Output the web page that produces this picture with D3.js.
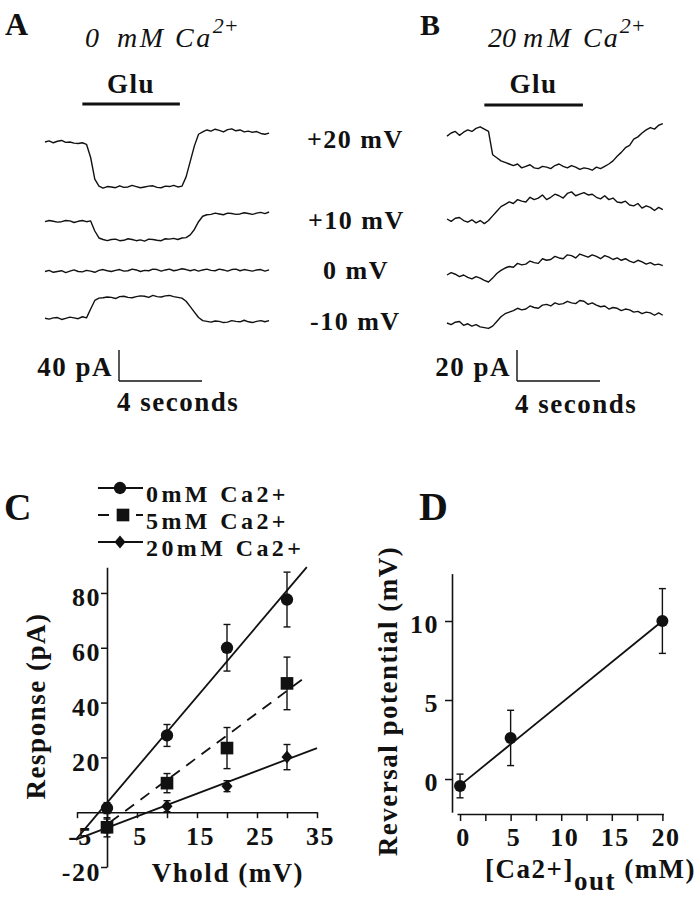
<!DOCTYPE html>
<html>
<head>
<meta charset="utf-8">
<script src="https://cdn.jsdelivr.net/npm/d3@7/dist/d3.min.js"></script>
<style>
  body { margin: 0; background: #fff; }
  text { font-family: 'Liberation Serif', 'Times New Roman', serif; fill: #111; }
  .b { font-weight: bold; letter-spacing: 1.5px; }
</style>
</head>
<body>
<div id="chart"></div>
<script>
const traceStep = 0.2; // seconds between digitised samples
const holdLabels = ['+20 mV', '+10 mV', '0 mV', '-10 mV'];

// A: 0 mM Ca2+, current (pA) relative to start of sweep
const traceA20 = [0, 1.5, -1, 1, 2, -0.5, 0, -1.5, -2, -1, -3,
  -20, -48, -57,
  -59.5, -57.5, -58, -59, -56.5, -58.5, -58, -56, -57.5, -59, -58, -57, -56.5, -58.5, -59, -57, -57.5, -56, -58, -57,
  -45, -25, -5, 10, 13, 15.5,
  14, 16.5, 15, 13, 16, 17, 14.5, 15.5, 13, 14, 12.5, 13.5, 11, 10, 11.5];
const traceA10 = [0, 1.5, 0.5, -0.5, 0, 1.5, 1, -1, 0.5, 1.5, 0, 1,
  -12, -21, -23,
  -24.5, -23, -22.5, -24.5, -24, -22, -23, -24.5, -23.5, -25, -22.5, -23, -24, -24.5, -22, -22.5, -21.5, -23, -21, -20.5,
  -17, -10, 0, 7, 9,
  9.5, 11, 10, 9, 11, 10.5, 9.5, 10, 11.5, 10.5, 9.5, 11, 12, 10.5, 12.5];
const traceA0 = [0, 1.5, -1, 0, 1, -1.5, 0.5, 2, 0, -0.5, 1.5,
  0.5, -1, 1.5, 2.5, 1, 0, 1.5, 2.5, 0.5, 1, 3,
  2, 0, 1.5, 1, 3, 2.5, 0.5, 2, 3, 1, 2,
  3.5, 2.5, 1, 2.5, 0.5, 2, 3, 1.5, 1, 3, 2,
  0.5, 2.5, 3, 1, 2.5, 1.5, 0.5, 2, 2.5, 0.5, 2];
const traceAm10 = [0, -1, 0.5, 1, -1.5, 0, 1.5, 0.5, -0.5, 2, 0.5,
  12, 23, 26,
  26.5, 27.5, 27, 25.5, 28, 28.5, 27, 26.5, 28, 29, 28.5, 27, 29.5, 28, 27.5, 29, 29.5, 28, 27, 26,
  22, 15, 8, 1, -3, -4,
  -5, -3.5, -4, -5.5, -5, -3, -4, -4.5, -2.5, -4.5, -5.5, -4, -3, -4.5, -3];

// B: 20 mM Ca2+
const traceB20 = [-2, 0, 1, -1.5, 0.5, 2, 1, 3, 4, 2.5,
  1, -14, -16, -18, -19, -20,
  -21, -20, -22.5, -21.5, -20.5, -22.5, -23, -21.5, -22, -23, -21, -20, -21.5, -22.5, -21, -22, -23.5, -22.5, -23, -24, -22, -23, -21.5, -20,
  -18, -15, -12.5, -9.5, -8, -4, -2.5, 0, 2, 3.5, 2.5, 5, 6];
const traceB10 = [0, -1.5, 0.5, 1, -1, -2, -0.5, -2.5, -1, -3,
  -1, 2, 5, 8, 9.5, 11,
  10, 12.5, 11.5, 11, 14, 12.5, 13.5, 15.5, 12.5, 14, 16, 15, 13.5, 16.5, 17.5, 15, 16, 17,
  15.5, 16, 14, 13, 15, 12.5, 13.5, 11, 10.5, 11.5, 9, 8.5, 10, 7, 8.5, 7.5, 5.5, 7.5, 6];
const traceB0 = [0, 1.5, 0.5, -1, 0, -1.5, -2.5, -1, -2, -3.5,
  -4.5, -2, 1, 3, 4.5, 5.5,
  5, 7.5, 6.5, 7, 9, 8, 7.5, 10.5, 9.5, 10, 12, 11, 10.5, 13, 12.5, 11, 13.5, 12.5,
  11.5, 13, 12, 10.5, 12.5, 11.5, 10, 11, 9.5, 10.5, 9, 8, 9.5, 8.5, 7, 8, 6.5, 7, 6];
const traceBm10 = [0, -1, 0.5, 1, -1.5, -0.5, -2, -1, -2.5, -3,
  -3.5, -2, 1, 4, 6, 7,
  8, 9.5, 8.5, 9, 11, 10, 9.5, 11.5, 12, 11, 13, 12, 12.5, 14, 13, 12.5, 14.5, 14,
  12, 13, 11.5, 10.5, 11, 9, 10, 9.5, 8, 9, 8.5, 7, 7.5, 6, 7, 6.5, 5, 6.5, 5];

const gluA = [1.8, 6.5]; // s
const gluB = [1.8, 6.55];
const scaleBarA = [40, 4]; // pA, s
const scaleBarB = [20, 4];

// C: response vs holding potential
const vhold = [0, 10, 20, 30];
const resp0 = [1.5, 28, 60, 77.6];
const err0 = [2, 4, 8.5, 10];
const resp5 = [-5.5, 10.6, 23.4, 47];
const err5 = [3.5, 3.5, 7.5, 9.6];
const resp20 = [-5, 2.2, 9.5, 20.1];
const err20 = [2.5, 2, 2, 4.6];
const fit0 = [[-5.2, -10], [33.3, 89.4]];
const fit5 = [[0.5, -3.7], [33.5, 50]];
const fit20 = [[-5.2, -10], [35, 23.4]];
const legendC = ['0mM Ca2+', '5mM Ca2+', '20mM Ca2+'];
const cTicksX = [-5, 0, 5, 10, 15, 20, 25, 30, 35];
const cLabelsX = [-5, 5, 15, 25, 35];
const cTicksY = [-20, 20, 40, 60, 80];

// D: reversal potential vs [Ca2+]out
const caOut = [0, 5, 20];
const erev = [-0.44, 2.6, 10];
const erevErr = [0.75, 1.75, 2.05];
const fitD = [[0, -0.4], [20, 10]];
const dTicksX = [0, 2.5, 5, 7.5, 10, 12.5, 15, 17.5, 20];
const dLabelsX = [0, 5, 10, 15, 20];
const dTicksY = [0, 5, 10];

const ink = '#111';
const svg = d3.select('#chart').append('svg')
  .attr('width', 700)
  .attr('height', 899)
  .style('display', 'block');

function txt(x, y, s, size) {
  return svg.append('text')
    .attr('class', 'b')
    .attr('x', x)
    .attr('y', y)
    .attr('font-size', size)
    .text(s);
}

function seg(x1, y1, x2, y2, w) {
  return svg.append('line')
    .attr('x1', x1).attr('y1', y1)
    .attr('x2', x2).attr('y2', y2)
    .attr('stroke', ink)
    .attr('stroke-width', w || 1.6);
}

// panel letters
txt(5, 35, 'A', 32);
txt(420, 35, 'B', 30);
txt(4, 520, 'C', 38);
txt(419, 520, 'D', 40);

// italic titles
function title(y, parts) {
  const t = svg.append('text')
    .attr('y', y)
    .attr('font-size', 28)
    .attr('font-style', 'italic');
  parts.forEach(([x, s, ls]) => {
    t.append('tspan').attr('x', x).attr('letter-spacing', ls).text(s);
  });
  return t.append('tspan')
    .attr('dy', -14)
    .attr('font-size', 22)
    .text('2+');
}
title(47, [[85, '0', 0], [117, 'mM Ca', 2.5]]);
title(47, [[488, '20', 0], [523, 'mM', 4], [583, 'Ca', 2]]);

// traces
const tA = d3.scaleLinear().domain([0, 4]).range([45, 128]);
const tB = d3.scaleLinear().domain([0, 4]).range([447, 530]);
const iA = d3.scaleLinear().domain([0, 40]).range([0, -31]);
const iB = d3.scaleLinear().domain([0, 20]).range([0, -31]);

function drawTraces(traces, baselines, t, amp) {
  traces.forEach((vals, k) => {
    const line = d3.line()
      .x((d, i) => t(i * traceStep))
      .y((d) => baselines[k] + amp(d));
    svg.append('path')
      .datum(vals)
      .attr('d', line)
      .attr('fill', 'none')
      .attr('stroke', ink)
      .attr('stroke-width', 1.4)
      .attr('stroke-linejoin', 'round');
  });
}
drawTraces([traceA20, traceA10, traceA0, traceAm10], [142, 221.7, 271.5, 318.3], tA, iA);
drawTraces([traceB20, traceB10, traceB0, traceBm10], [133, 219, 275, 323], tB, iB);

// Glu application bars
[[gluA, tA, 104], [gluB, tB, 105]].forEach(([g, t, y]) => {
  seg(t(g[0]), y, t(g[1]), y, 2.8);
  txt((t(g[0]) + t(g[1])) / 2, 93, 'Glu', 27).attr('text-anchor', 'middle');
});

// holding potentials
const holdX = [307, 308, 323, 310];
const holdY = [148, 229, 279, 330];
holdLabels.forEach((s, k) => txt(holdX[k], holdY[k], s, 26));

// scale bars
[[scaleBarA, tA, iA, 119, 381, 411], [scaleBarB, tB, iB, 517, 381, 413]].forEach(([sb, t, amp, x0, y0, yl]) => {
  seg(x0, y0, x0, y0 + amp(sb[0]), 1.4);
  seg(x0, y0, x0 + t(sb[1]) - t(0), y0, 1.4);
  txt(x0 - 6, 376, `${sb[0]} pA`, 27).attr('text-anchor', 'end');
  txt(x0 - 2, yl, `${sb[1]} seconds`, 27);
});

// ---- panel C
const xC = d3.scaleLinear().domain([-5, 35]).range([77, 317]);
const yC = d3.scaleLinear().domain([-20, 89.4]).range([867, 567.2]);

function styleAxis(g) {
  g.attr('font-family', null).attr('font-size', 26);
  g.select('.domain').attr('stroke', ink).attr('stroke-width', 1.6);
  g.selectAll('.tick line').attr('stroke', ink).attr('stroke-width', 1.5);
  g.selectAll('.tick text').attr('class', 'b').attr('fill', ink);
}

svg.append('g')
  .attr('transform', `translate(0,${yC(0)})`)
  .call(d3.axisBottom(xC).tickValues(cTicksX).tickSize(6).tickSizeOuter(0)
    .tickFormat((d) => (cLabelsX.includes(d) ? d : '')))
  .call(styleAxis)
  .selectAll('.tick text')
  .attr('y', 33)
  .attr('dy', 0)
  .attr('dx', 3);

svg.append('g')
  .attr('transform', `translate(${xC(0)},0)`)
  .call(d3.axisLeft(yC).tickValues(cTicksY).tickSize(6).tickSizeOuter(0).tickPadding(0)
    .tickFormat((d) => d))
  .call(styleAxis)
  .selectAll('.tick text')
  .attr('dy', '0.5em');

const lineC = d3.line().x((d) => xC(d[0])).y((d) => yC(d[1]));
[[fit0, null], [fit5, '11,8'], [fit20, null]].forEach(([f, dash]) => {
  svg.append('path')
    .datum(f)
    .attr('d', lineC)
    .attr('fill', 'none')
    .attr('stroke', ink)
    .attr('stroke-width', 1.8)
    .attr('stroke-dasharray', dash);
});

const shapes = [
  d3.symbol().type(d3.symbolCircle).size(120)(),
  d3.symbol().type(d3.symbolSquare).size(160)(),
  'M0,-6.5L5.5,0L0,6.5L-5.5,0Z',
];

function errorBars(xs, ys, es, x, y) {
  xs.forEach((v, i) => {
    const top = y(ys[i] + es[i]);
    const bot = y(ys[i] - es[i]);
    seg(x(v), top, x(v), bot, 1.4);
    seg(x(v) - 3.5, top, x(v) + 3.5, top, 1.4);
    seg(x(v) - 3.5, bot, x(v) + 3.5, bot, 1.4);
  });
}

[[resp0, err0], [resp5, err5], [resp20, err20]].forEach(([r, e], k) => {
  errorBars(vhold, r, e, xC, yC);
  svg.selectAll(null)
    .data(vhold)
    .enter()
    .append('path')
    .attr('d', shapes[k])
    .attr('transform', (d, i) => `translate(${xC(d)},${yC(r[i])})`)
    .attr('fill', ink);
});

// legend C
legendC.forEach((s, k) => {
  const y = 488 + k * 27;
  seg(98, y, 143, y, 1.8).attr('stroke-dasharray', k === 1 ? '11,8' : null);
  svg.append('path')
    .attr('d', shapes[k])
    .attr('transform', `translate(${k === 1 ? 123 : 120},${y})`)
    .attr('fill', ink);
  txt(146, y + 14, s, 24).style('letter-spacing', '3.4px');
});

txt(228, 882, 'Vhold (mV)', 27).attr('text-anchor', 'middle');
txt(0, 0, 'Response (pA)', 27)
  .attr('text-anchor', 'middle')
  .attr('transform', 'translate(45,706) rotate(-90)');

// ---- panel D
const xD = d3.scaleLinear().domain([-0.3, 20.1]).range([457, 663.4]);
const yD = d3.scaleLinear().domain([-2.1, 13]).range([812.2, 573.6]);

svg.append('g')
  .attr('transform', 'translate(0,814)')
  .call(d3.axisBottom(xD).tickValues(dTicksX).tickSize(7).tickSizeOuter(0)
    .tickFormat((d) => (dLabelsX.includes(d) ? d : '')))
  .call(styleAxis)
  .selectAll('.tick text')
  .attr('y', 32)
  .attr('dy', 0)
  .attr('dx', 3);

svg.append('g')
  .attr('transform', 'translate(452,0)')
  .call(d3.axisLeft(yD).tickValues(dTicksY).tickSize(7).tickSizeOuter(0).tickPadding(6))
  .call(styleAxis)
  .selectAll('.tick text')
  .attr('dy', '0.45em');

svg.append('path')
  .datum(fitD)
  .attr('d', d3.line().x((d) => xD(d[0])).y((d) => yD(d[1])))
  .attr('fill', 'none')
  .attr('stroke', ink)
  .attr('stroke-width', 1.8);

errorBars(caOut, erev, erevErr, xD, yD);
svg.selectAll(null)
  .data(caOut)
  .enter()
  .append('circle')
  .attr('cx', (d) => xD(d))
  .attr('cy', (d, i) => yD(erev[i]))
  .attr('r', 6)
  .attr('fill', ink);

const xl = txt(485, 878, '[Ca2+]', 27);
xl.append('tspan').attr('dy', 12).text('out');
xl.append('tspan').attr('dy', -12).text(' (mM)');
txt(0, 0, 'Reversal potential (mV)', 27)
  .attr('text-anchor', 'middle')
  .attr('transform', 'translate(397,701) rotate(-90)');
</script>
</body>
</html>
